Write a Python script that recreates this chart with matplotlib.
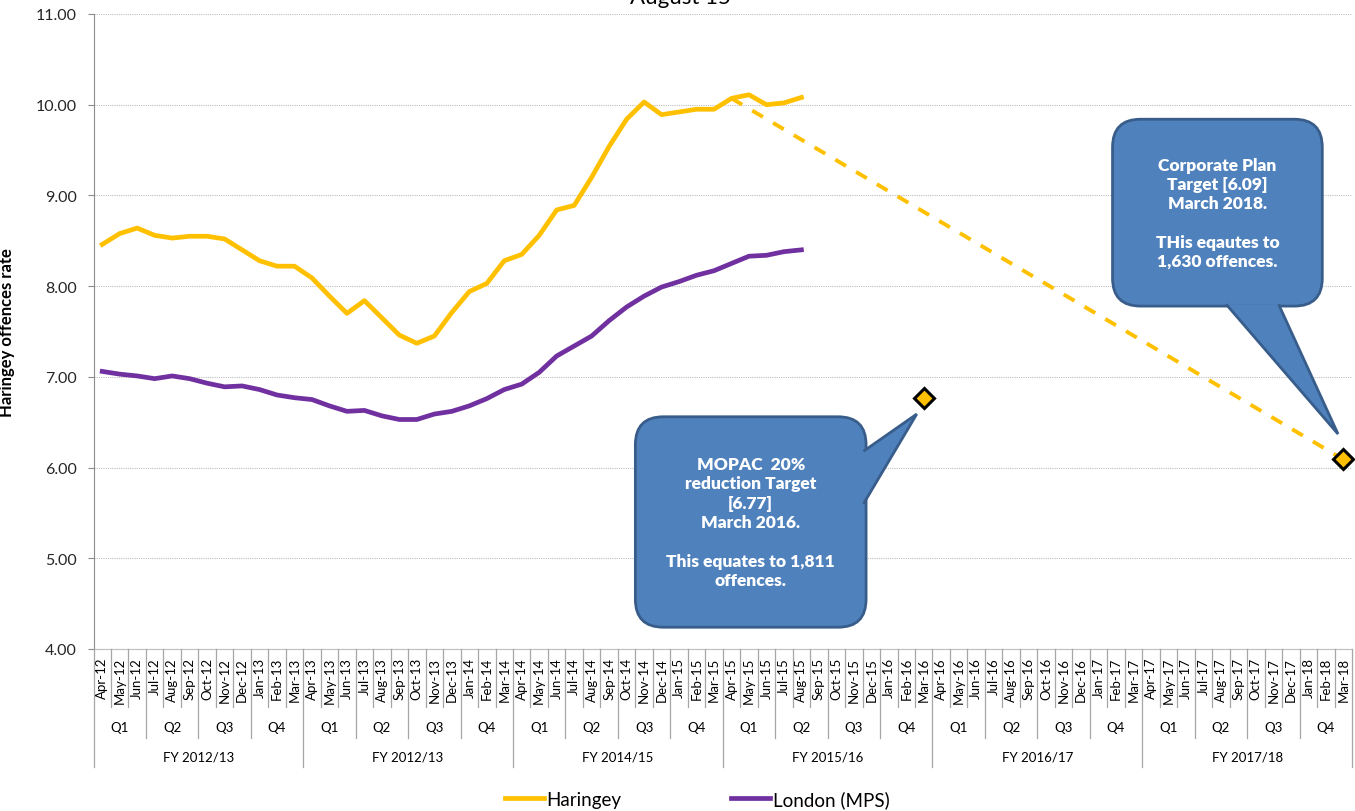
import numpy as np
import matplotlib.pyplot as plt
from matplotlib.patches import FancyBboxPatch, Polygon
from matplotlib.lines import Line2D
from matplotlib.transforms import IdentityTransform

plt.rcParams['font.family'] = ['Lato', 'DejaVu Sans']

# month labels Apr-12 .. Mar-18
month_names = ['Apr', 'May', 'Jun', 'Jul', 'Aug', 'Sep', 'Oct', 'Nov', 'Dec', 'Jan', 'Feb', 'Mar']
fy_start_years = [12, 13, 14, 15, 16, 17]
months = []
for yr in fy_start_years:
    for k, m in enumerate(month_names):
        months.append('%s-%02d' % (m, yr if k < 9 else yr + 1))

quarters = ['Q1', 'Q2', 'Q3', 'Q4']
fy_labels = ['FY 2012/13', 'FY 2012/13', 'FY 2014/15', 'FY 2015/16', 'FY 2016/17', 'FY 2017/18']

# rolling rate, Apr-12 .. Aug-15
haringey = [8.46, 8.58, 8.64, 8.56, 8.53, 8.55, 8.55, 8.52, 8.40, 8.28, 8.22, 8.22,
            8.09, 7.89, 7.70, 7.84, 7.65, 7.46, 7.37, 7.45, 7.71, 7.94, 8.03, 8.28,
            8.35, 8.56, 8.84, 8.89, 9.20, 9.54, 9.84, 10.03, 9.89, 9.92, 9.95, 9.95,
            10.07, 10.11, 10.00, 10.02, 10.08]
london = [7.06, 7.03, 7.01, 6.98, 7.01, 6.98, 6.93, 6.89, 6.90, 6.86, 6.80, 6.77,
          6.75, 6.68, 6.62, 6.63, 6.57, 6.53, 6.53, 6.59, 6.62, 6.68, 6.76, 6.86,
          6.92, 7.05, 7.23, 7.34, 7.45, 7.62, 7.77, 7.89, 7.99, 8.05, 8.12, 8.17,
          8.25, 8.33, 8.34, 8.38, 8.40]
trajectory_months = ['Apr-15', 'Mar-18']
trajectory_vals = [10.07, 6.09]
target_months = ['Mar-16', 'Mar-18']
target_vals = [6.77, 6.09]

gold = '#FFC000'
purple = '#7030A0'
W, H = 1355, 812

fig = plt.figure(figsize=(W / 100, H / 100), dpi=100)
ax = fig.add_axes([93.5 / W, 1 - 650 / H, (1352 - 93.5) / W, (650 - 15) / H])

x = np.arange(len(months))
ax.plot(x[:len(haringey)], haringey, color=gold, lw=3.4, label='Haringey', zorder=4)
ax.plot(x[:len(london)], london, color=purple, lw=3.4, label='London (MPS)', zorder=4)
tx = [months.index(m) for m in trajectory_months]
ax.plot(tx, trajectory_vals, color=gold, lw=2.8, dashes=(3.2, 3.0), zorder=3)
mx = [months.index(m) for m in target_months]
ax.plot(mx, target_vals, ls='none', marker='D', ms=10, mfc=gold, mec='black', mew=2.2, zorder=6, clip_on=False)

ax.set_xlim(-0.5, len(months) - 0.5)
ax.set_ylim(4, 11)
ax.set_yticks(np.arange(4, 11.01, 1))
ax.set_yticklabels(['%.2f' % v for v in np.arange(4, 11.01, 1)], fontsize=11.5, color='#262626')
ax.grid(axis='y', color='#BFBFBF', ls=(0, (1, 1)), lw=0.8)
ax.set_axisbelow(True)
ax.set_xticks([])
for s in ['top', 'right']:
    ax.spines[s].set_visible(False)
ax.spines['left'].set_color('#8C8C8C')
ax.spines['bottom'].set_color('#BFBFBF')
ax.tick_params(axis='y', length=4, color='#8C8C8C', pad=8)
ax.set_ylabel('Haringey offences rate', fontsize=12, fontweight='bold')
ax.yaxis.set_label_coords(-0.062, 0.5)

# title sits mostly above the saved area, as in the source image
fig.text(680 / W, 1 - 4 / H, 'August 15', ha='center', va='baseline', fontsize=16)

# multi-level category axis
def py(p):
    return 1 - p / H

def px(i):
    return ax.transData.transform((i, 0))[0] / W

for b in range(len(months) + 1):
    bottom = 708
    if b % 3 == 0:
        bottom = 739
    if b % 12 == 0:
        bottom = 768
    fig.add_artist(Line2D([px(b - 0.5)] * 2, [py(650), py(bottom)], color='#A6A6A6', lw=0.9))
for i, m in enumerate(months):
    fig.text(px(i), py(658), m, rotation=90, ha='center', va='top', fontsize=9.5)
for q in range(len(months) // 3):
    fig.text(px(q * 3 + 1), py(728), quarters[q % 4], ha='center', va='center', fontsize=9.5)
for f, lab in enumerate(fy_labels):
    fig.text(px(f * 12 + 5.5), py(758), lab, ha='center', va='center', fontsize=9.5)

# callouts
blue = '#4F81BD'
edge = '#385D8A'
fig.canvas.draw()

def to_px(xv, yv):
    return ax.transData.transform((xv, yv))

def callout(x0, y0, x1, y1, tail, text):
    (a, b), (c, d) = to_px(x0, y0), to_px(x1, y1)
    box = FancyBboxPatch((a, d), c - a, b - d, boxstyle='round,pad=0,rounding_size=28',
                         fc=blue, ec=edge, lw=2, transform=IdentityTransform(), zorder=7)
    fig.add_artist(box)
    pts = [to_px(*p) for p in tail]
    tri = Polygon(pts, closed=False, fc=blue, ec=edge, lw=2, joinstyle='miter',
                  transform=IdentityTransform(), zorder=8)
    fig.add_artist(tri)
    fig.text((a + c) / 2 / W, (b + d) / 2 / H, text, ha='center', va='center', color='white',
             fontsize=12.5, fontweight='heavy', linespacing=1.25, zorder=9)

i_m = months.index('Mar-16')
callout(i_m - 16.5, 6.56, i_m - 3.3, 4.24,
        [(i_m - 3.45, 6.18), (i_m - 0.4, target_vals[0] - 0.18), (i_m - 3.45, 5.60)],
        'MOPAC  20%\nreduction Target\n[6.77]\nMarch 2016.\n\nThis equates to 1,811\noffences.')
i_c = months.index('Mar-18')
callout(i_c - 13.2, 9.84, i_c - 1.2, 7.78,
        [(i_c - 6.7, 7.80), (i_c - 0.3, target_vals[1] + 0.28), (i_c - 3.7, 7.80)],
        'Corporate Plan\nTarget [6.09]\nMarch 2018.\n\nTHis eqautes to\n1,630 offences.')

fig.legend(handles=ax.get_lines()[:2], loc='center', bbox_to_anchor=(697 / W, py(800)),
           ncol=2, frameon=False, fontsize=13.5, handlelength=2.1, handletextpad=0.15,
           columnspacing=5.8)

fig.savefig('out.png', dpi=100)
